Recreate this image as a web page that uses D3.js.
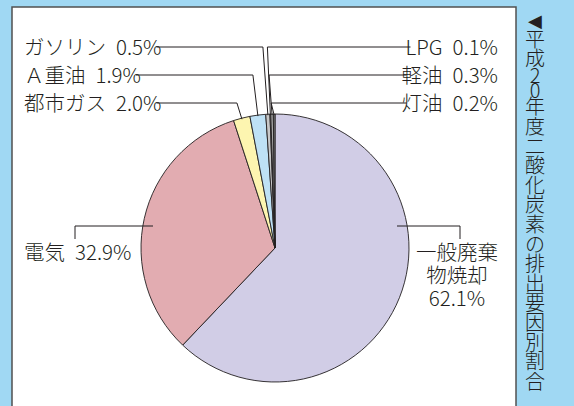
<!DOCTYPE html>
<html>
<head>
<meta charset="utf-8">
<script src="https://cdn.jsdelivr.net/npm/d3@7"></script>
<style>
  html, body { margin: 0; padding: 0; background: #a0d8f3; }
  svg { display: block; }
  text { font-family: "Noto Sans CJK JP", "Noto Sans", sans-serif; fill: #231f20; font-weight: 300; }
</style>
</head>
<body>
<div id="chart"></div>
<script>
// 平成20年度 二酸化炭素の排出要因別割合
const categories = ["一般廃棄物焼却", "電気", "都市ガス", "Ａ重油", "ガソリン", "LPG", "軽油", "灯油"];
const shares = [62.1, 32.9, 2.0, 1.9, 0.5, 0.1, 0.3, 0.2];
const shareLabels = ["62.1%", "32.9%", "2.0%", "1.9%", "0.5%", "0.1%", "0.3%", "0.2%"];
const sliceColors = ["#d1cde6", "#e2acb1", "#fdf5b0", "#bee1f5", "#c8c8c8", "#e6e6e6", "#a8a8a8", "#8a8a8a"];
const titleText = "平成20年度二酸化炭素の排出要因別割合";

const width = 574, height = 406;
const cx = 275, cy = 248, r = 134;
const fs = 20.5;

const svg = d3.select('#chart').append('svg')
    .attr('width', width)
    .attr('height', height);

// white panel
svg.append('rect')
    .attr('x', 12).attr('y', 7)
    .attr('width', 504).attr('height', 420)
    .attr('fill', '#fff')
    .attr('stroke', '#505050')
    .attr('stroke-width', 1.5);

const pie = d3.pie().sort(null).value(d => d)(shares);
const arc = d3.arc().innerRadius(0).outerRadius(r);

const g = svg.append('g').attr('transform', `translate(${cx},${cy})`);

g.selectAll('path')
    .data(pie)
    .enter()
    .append('path')
    .attr('d', arc)
    .attr('fill', (d, i) => sliceColors[i])
    .attr('stroke', '#231f20')
    .attr('stroke-width', 0.9);

// point on the rim at a slice's middle angle
function rimPoint(d, rad) {
    const a = (d.startAngle + d.endAngle) / 2;
    return [cx + Math.sin(a) * rad, cy - Math.cos(a) * rad];
}

const lines = svg.append('g')
    .attr('fill', 'none')
    .attr('stroke', '#231f20')
    .attr('stroke-width', 1);

// small slices: [index, side, row]
const small = [[4, 'left', 0], [3, 'left', 1], [2, 'left', 2], [5, 'right', 0], [6, 'right', 1], [7, 'right', 2]];

small.forEach(([i, side, row]) => {
    const lineY = 47 + row * 28;
    const t = svg.append('text')
        .attr('y', lineY + 7.5)
        .attr('font-size', fs);
    t.append('tspan').text(categories[i]);
    t.append('tspan').attr('dx', 10).text(shareLabels[i]);
    const [px, py] = rimPoint(pie[i], r - 1);
    if (side === 'left') {
        t.attr('x', 24).attr('text-anchor', 'start');
        const end = 24 + t.node().getComputedTextLength();
        lines.append('polyline')
            .attr('points', [[end + 5, lineY], [px - 5, lineY], [px, py]].join(' '));
    } else {
        t.attr('x', 498).attr('text-anchor', 'end');
        const start = 498 - t.node().getComputedTextLength();
        lines.append('polyline')
            .attr('points', [[start - 5, lineY], [px - 3, lineY], [px, py]].join(' '));
    }
});

// 電気
lines.append('polyline')
    .attr('points', [[cx - (r - 12), 226], [75, 226], [75, 239]].join(' '));
const tE = svg.append('text').attr('x', 24).attr('y', 260).attr('font-size', fs);
tE.append('tspan').text(categories[1]);
tE.append('tspan').attr('dx', 10).text(shareLabels[1]);

// 一般廃棄物焼却
lines.append('polyline')
    .attr('points', [[cx + (r - 12), 226], [460, 226], [460, 239]].join(' '));
const waste = [categories[0].slice(0, 4), categories[0].slice(4), shareLabels[0]];
const tW = svg.append('text')
    .attr('text-anchor', 'middle')
    .attr('font-size', fs);
tW.selectAll('tspan')
    .data(waste)
    .enter()
    .append('tspan')
    .attr('x', 457)
    .attr('y', (d, i) => 260 + i * 23)
    .text(d => d);

// vertical title on the right, stacked one character at a time
const title = svg.append('text')
    .attr('text-anchor', 'middle')
    .attr('font-size', 20);
title.append('tspan')
    .attr('x', 535).attr('y', 27)
    .style('font-family', 'DejaVu Sans')
    .attr('font-size', 18)
    .text('◀');
let y = 30;
for (const ch of titleText) {
    const adv = /[0-9]/.test(ch) ? 14.2 : 19.6;
    title.append('tspan')
        .attr('x', 535)
        .attr('y', y + adv / 2 + 7)
        .text(ch);
    y += adv;
}
</script>
</body>
</html>
